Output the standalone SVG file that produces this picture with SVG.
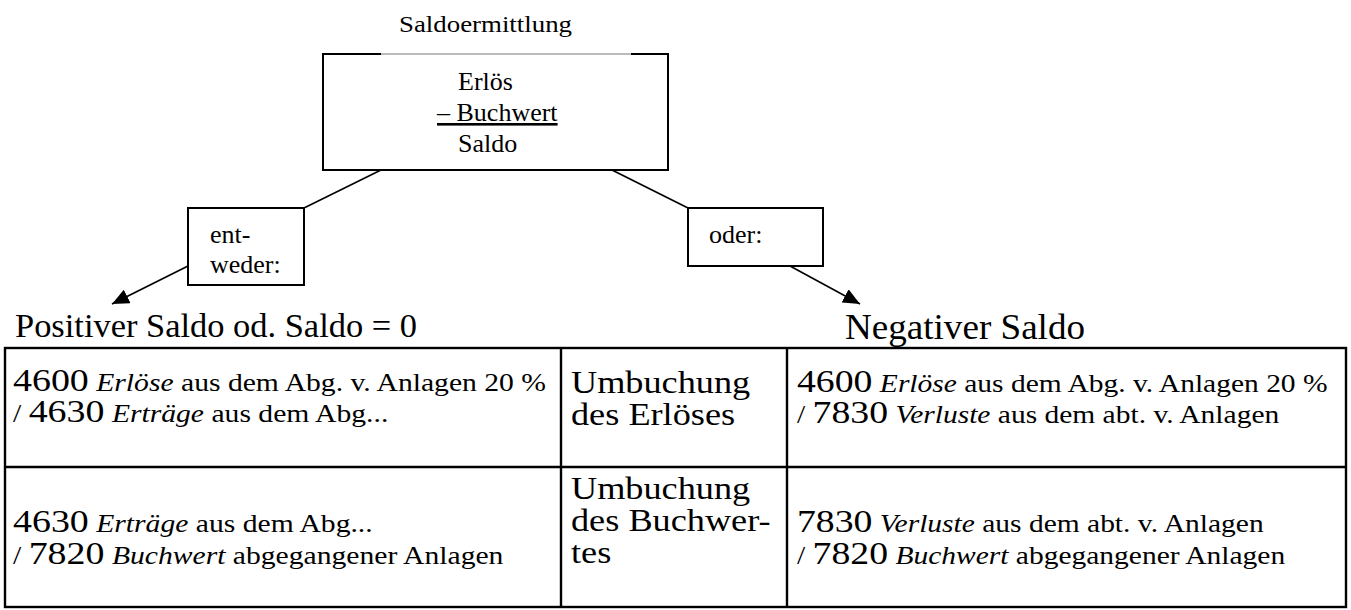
<svg xmlns="http://www.w3.org/2000/svg" width="1351" height="610" viewBox="0 0 1351 610">
<style>
text{font-family:'Liberation Serif','Times New Roman',serif;fill:#000}
.n{font-size:26px}
.h{font-size:35px}
.t{font-size:25px}
.d{font-size:32px}
.m{font-size:31px}
.i{font-style:italic}
.box{fill:#fff;stroke:#000;stroke-width:2}
.ln{stroke:#000;stroke-width:1.6;fill:none}
.tb{stroke:#000;stroke-width:2.4;fill:none}
</style>
<defs>
<marker id="ah" markerUnits="userSpaceOnUse" viewBox="0 0 17 15" refX="17" refY="7.5" markerWidth="17" markerHeight="15" orient="auto">
<path d="M0,0 L17,7.5 L0,15 z" fill="#000"/>
</marker>
</defs>
<g id="title">
<text x="399" y="32" style="font-size:24px" textLength="173" lengthAdjust="spacingAndGlyphs">Saldoermittlung</text>
</g>
<g id="main">
<path d="M323,54 L323,170 L668,170 L668,54" class="box"/>
<line x1="322" y1="54" x2="381" y2="54" stroke="#000" stroke-width="2"/>
<line x1="631" y1="54" x2="669" y2="54" stroke="#000" stroke-width="2"/>
<line x1="381" y1="54" x2="631" y2="54" stroke="#777" stroke-width="1"/>
<text class="n" x="458" y="90">Erlös</text>
<text class="n" x="437" y="121" text-decoration="underline">– Buchwert</text>
<text class="n" x="458" y="152">Saldo</text>
</g>
<g id="connectors">
<line class="ln" x1="381" y1="170" x2="304" y2="208"/>
<line class="ln" x1="188" y1="266" x2="112" y2="304" marker-end="url(#ah)"/>
<line class="ln" x1="612" y1="170" x2="688" y2="208"/>
<line class="ln" x1="790" y1="266" x2="860" y2="304" marker-end="url(#ah)"/>
</g>
<g id="entweder">
<rect class="box" x="188" y="208" width="116" height="77"/>
<text class="n" x="210" y="243">ent-</text>
<text class="n" x="210" y="273">weder:</text>
</g>
<g id="oder">
<rect class="box" x="688" y="208" width="135" height="58"/>
<text class="n" x="709" y="243">oder:</text>
</g>
<g id="positiv">
<text x="15" y="337" style="font-size:34.5px" textLength="402" lengthAdjust="spacingAndGlyphs">Positiver Saldo od. Saldo = 0</text>
</g>
<g id="negativ">
<text class="h" x="845" y="339" textLength="240" lengthAdjust="spacingAndGlyphs">Negativer Saldo</text>
</g>
<g id="table">
<rect class="tb" x="5" y="348" width="1341" height="259"/>
<line class="tb" x1="5" y1="467" x2="1346" y2="467"/>
<line class="tb" x1="561" y1="348" x2="561" y2="607"/>
<line class="tb" x1="787" y1="348" x2="787" y2="607"/>
<g transform="translate(13,0) scale(1.185,1)">
<text class="t" x="0" y="391"><tspan class="d">4600</tspan> <tspan class="i">Erlöse</tspan> aus dem Abg. v. Anlagen 20 %</text>
<text class="t" x="0" y="422">/ <tspan class="d">4630</tspan> <tspan class="i">Erträge</tspan> aus dem Abg...</text>
<text class="t" x="0" y="532"><tspan class="d">4630</tspan> <tspan class="i">Erträge</tspan> aus dem Abg...</text>
<text class="t" x="0" y="564">/ <tspan class="d">7820</tspan> <tspan class="i">Buchwert</tspan> abgegangener Anlagen</text>
</g>
<g transform="translate(571,0) scale(1.17,1)">
<text class="m" x="0" y="393">Umbuchung</text>
<text class="m" x="0" y="425">des Erlöses</text>
<text class="m" x="0" y="499">Umbuchung</text>
<text class="m" x="0" y="531">des Buchwer-</text>
<text class="m" x="0" y="563">tes</text>
</g>
<g transform="translate(797,0) scale(1.18,1)">
<text class="t" x="0" y="392"><tspan class="d">4600</tspan> <tspan class="i">Erlöse</tspan> aus dem Abg. v. Anlagen 20 %</text>
<text class="t" x="0" y="423">/ <tspan class="d">7830</tspan> <tspan class="i">Verluste</tspan> aus dem abt. v. Anlagen</text>
<text class="t" x="0" y="532"><tspan class="d">7830</tspan> <tspan class="i">Verluste</tspan> aus dem abt. v. Anlagen</text>
<text class="t" x="0" y="564">/ <tspan class="d">7820</tspan> <tspan class="i">Buchwert</tspan> abgegangener Anlagen</text>
</g>
</g>
</svg>
